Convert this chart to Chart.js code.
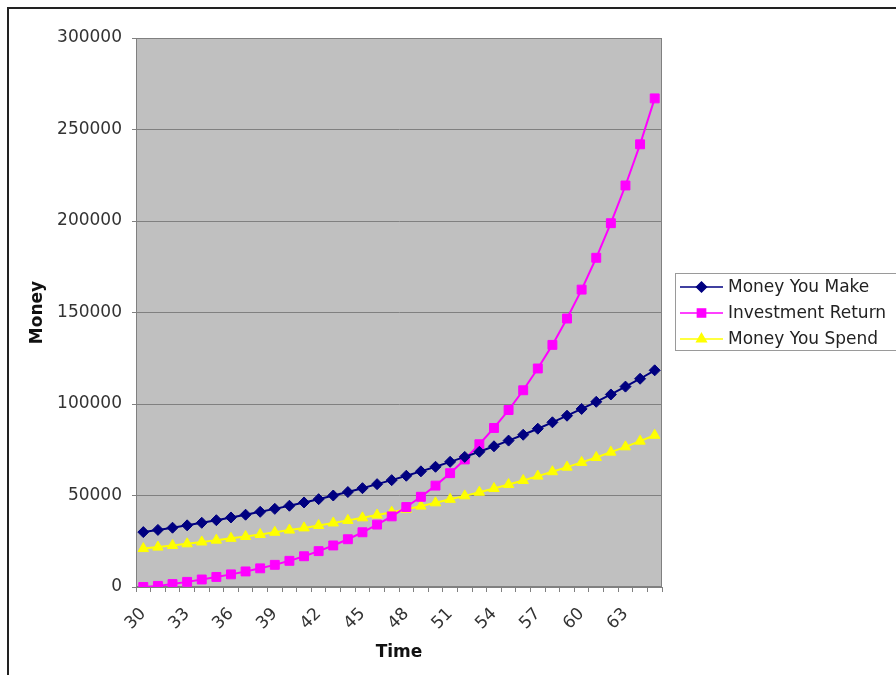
<!DOCTYPE html>
<html>
<head>
<meta charset="utf-8">
<style>
  html, body { margin: 0; padding: 0; background: #ffffff; }
  #wrap { position: relative; width: 896px; height: 675px; }
</style>
<script src="https://cdn.jsdelivr.net/npm/chart.js@4.4.1/dist/chart.umd.min.js"></script>
</head>
<body>
<div id="wrap"><canvas id="c" width="896" height="675"></canvas></div>
<script>
// Age (years) along the time axis
const ages = [30, 31, 32, 33, 34, 35, 36, 37, 38, 39, 40, 41, 42, 43, 44, 45, 46, 47,
              48, 49, 50, 51, 52, 53, 54, 55, 56, 57, 58, 59, 60, 61, 62, 63, 64, 65];

// Yearly income
const moneyYouMake = [30000, 31200, 32400, 33700, 35100, 36500, 38000, 39500, 41100, 42700,
                      44400, 46200, 48000, 50000, 51900, 54000, 56200, 58400, 60800, 63200,
                      65700, 68400, 71100, 73900, 76900, 80000, 83200, 86500, 90000, 93600,
                      97300, 101200, 105200, 109500, 113800, 118400];

// Return earned on invested savings
const investmentReturn = [0, 600, 1600, 2800, 4100, 5500, 6900, 8500, 10200, 12100,
                          14300, 16800, 19600, 22700, 26100, 29900, 34100, 38600, 43700, 49300,
                          55400, 62200, 69700, 78000, 86900, 96700, 107500, 119400, 132300, 146700,
                          162500, 179900, 198800, 219400, 241900, 267000];

// Yearly spending
const moneyYouSpend = [21000, 21800, 22700, 23600, 24600, 25600, 26600, 27600, 28700, 29900,
                       31100, 32300, 33600, 35000, 36400, 37800, 39300, 40900, 42500, 44200,
                       46000, 47900, 49800, 51800, 53800, 56000, 58200, 60600, 63000, 65500,
                       68100, 70800, 73700, 76600, 79700, 82900];

// Money axis range and step
const yMin = 0;
const yMax = 300000;
const yStep = 50000;

const FONT = "'DejaVu Sans', Verdana, sans-serif";
Chart.defaults.font.family = FONT;
Chart.defaults.font.size = 17;
Chart.defaults.color = '#333333';

// White page with the dark frame on its top and left edges, plus grey plot area
const framePlugin = {
  id: 'frame',
  beforeDraw(chart) {
    const ctx = chart.ctx;
    const a = chart.chartArea;
    ctx.save();
    ctx.fillStyle = '#ffffff';
    ctx.fillRect(0, 0, chart.width, chart.height);
    ctx.fillStyle = '#222222';
    ctx.fillRect(7, 7, chart.width - 7, 2);
    ctx.fillRect(7, 7, 2, chart.height - 7);
    ctx.fillStyle = '#c0c0c0';
    ctx.fillRect(a.left, a.top, a.right - a.left, a.bottom - a.top);
    ctx.restore();
  },
  beforeDatasetsDraw(chart) {
    const ctx = chart.ctx;
    const a = chart.chartArea;
    ctx.save();
    ctx.strokeStyle = '#808080';
    ctx.lineWidth = 1;
    ctx.strokeRect(Math.round(a.left) + 0.5, Math.round(a.top) + 0.5,
                   Math.round(a.right - a.left) - 1, Math.round(a.bottom - a.top) - 1);
    ctx.restore();
  }
};

// Boxed legend at the right of the plot
const sideLegend = {
  id: 'sideLegend',
  afterDraw(chart) {
    const ctx = chart.ctx;
    ctx.save();
    const x0 = 675.5, y0 = 273.5, w = 240, h = 77;
    ctx.fillStyle = '#ffffff';
    ctx.fillRect(x0, y0, w, h);
    ctx.strokeStyle = '#9a9a9a';
    ctx.lineWidth = 1;
    ctx.strokeRect(x0, y0, w, h);
    chart.data.datasets.forEach((ds, i) => {
      const y = 287 + i * 26;
      ctx.strokeStyle = ds.borderColor;
      ctx.lineWidth = 1.5;
      ctx.beginPath();
      ctx.moveTo(680, y);
      ctx.lineTo(723, y);
      ctx.stroke();
      ctx.fillStyle = ds.pointBackgroundColor;
      ctx.strokeStyle = ds.pointBorderColor;
      Chart.helpers.drawPoint(ctx, {
        pointStyle: ds.pointStyle,
        radius: ds.pointRadius - 0.5,
        borderWidth: 1,
        rotation: 0
      }, 701.5, y);
      ctx.fillStyle = '#222222';
      ctx.font = '17px ' + FONT;
      ctx.textAlign = 'left';
      ctx.textBaseline = 'middle';
      ctx.fillText(ds.label, 728, y + 1);
    });
    ctx.restore();
  }
};

new Chart(document.getElementById('c'), {
  type: 'line',
  data: {
    labels: ages,
    datasets: [
      {
        label: 'Money You Make',
        data: moneyYouMake,
        borderColor: '#000080',
        backgroundColor: '#000080',
        pointBackgroundColor: '#000080',
        pointBorderColor: '#000080',
        pointStyle: 'rectRot',
        pointRadius: 5.5,
        pointBorderWidth: 1,
        borderWidth: 2,
        tension: 0,
        fill: false
      },
      {
        label: 'Investment Return',
        data: investmentReturn,
        borderColor: '#ff00ff',
        backgroundColor: '#ff00ff',
        pointBackgroundColor: '#ff00ff',
        pointBorderColor: '#ff00ff',
        pointStyle: 'rect',
        pointRadius: 6.3,
        pointBorderWidth: 1,
        borderWidth: 2,
        tension: 0,
        fill: false
      },
      {
        label: 'Money You Spend',
        data: moneyYouSpend,
        borderColor: '#ffff00',
        backgroundColor: '#ffff00',
        pointBackgroundColor: '#ffff00',
        pointBorderColor: '#ffff00',
        pointStyle: 'triangle',
        pointRadius: 6,
        pointBorderWidth: 1,
        borderWidth: 2,
        tension: 0,
        fill: false
      }
    ]
  },
  options: {
    responsive: false,
    animation: false,
    devicePixelRatio: 1,
    layout: { padding: { left: 0, top: 38, right: 234, bottom: 0 } },
    plugins: {
      legend: { display: false },
      tooltip: { enabled: false }
    },
    scales: {
      x: {
        type: 'category',
        offset: true,
        grid: {
          offset: true,
          drawOnChartArea: false,
          drawTicks: true,
          tickLength: 5,
          color: '#808080'
        },
        border: { color: '#808080' },
        ticks: {
          autoSkip: false,
          maxRotation: 45,
          minRotation: 45,
          padding: 12,
          color: '#333333',
          font: { size: 17 },
          callback: (v, i) => (i % 3 === 0 ? String(ages[i]) : '')
        },
        title: {
          display: true,
          text: 'Time',
          color: '#111111',
          font: { size: 17, weight: 'bold' },
          padding: { top: 0, bottom: 12 }
        },
        afterFit: (s) => { s.height = 88; }
      },
      y: {
        min: yMin,
        max: yMax,
        grid: {
          color: '#808080',
          drawTicks: true,
          tickLength: 4
        },
        border: { color: '#808080' },
        ticks: {
          stepSize: yStep,
          padding: 10,
          color: '#333333',
          font: { size: 17 },
          callback: (v) => String(v)
        },
        title: {
          display: true,
          text: 'Money',
          color: '#111111',
          font: { size: 17, weight: 'bold' },
          padding: { top: 27, bottom: 0 }
        },
        afterFit: (s) => { s.width = 136; }
      }
    }
  },
  plugins: [framePlugin, sideLegend]
});
</script>
</body>
</html>
